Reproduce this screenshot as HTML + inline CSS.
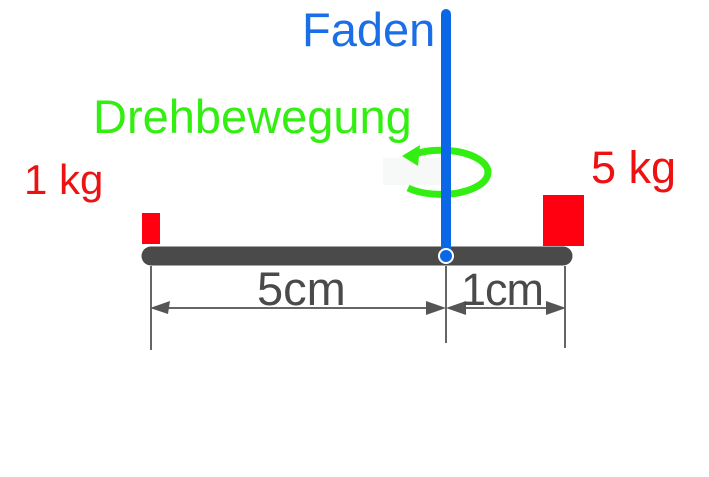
<!DOCTYPE html>
<html><head><style>
body{margin:0;width:709px;height:472px;background:#fff;overflow:hidden}
</style></head><body>
<svg width="709" height="472" xmlns="http://www.w3.org/2000/svg" font-family="Liberation Sans, sans-serif">
<text x="302" y="46" font-size="47" fill="#1a6ee8">Faden</text>
<text x="93" y="133" font-size="47" fill="#33ee11">Drehbewegung</text>
<text x="24" y="194" font-size="42" fill="#ee1111">1 kg</text>
<text x="591" y="183" font-size="45" fill="#ee1111">5 kg</text>
<rect x="142" y="213" width="18" height="31" fill="#ff0010"/>
<rect x="543" y="195" width="41" height="51" fill="#ff0010"/>
<rect x="383" y="158" width="60" height="27" fill="#f6f9f8"/>
<path d="M408 188 A47 22 0 1 0 412 155" fill="none" stroke="#33ee11" stroke-width="7"/>
<polygon points="402,156 420,145 418,166" fill="#33ee11"/>
<line x1="151" y1="256" x2="563" y2="256" stroke="#4a4a4a" stroke-width="19" stroke-linecap="round"/>
<line x1="446" y1="14" x2="446" y2="254" stroke="#0a68e6" stroke-width="10" stroke-linecap="round"/>
<circle cx="446" cy="256" r="7" fill="#0a68e6" stroke="#fff" stroke-width="2"/>
<g stroke="#666" stroke-width="2">
<line x1="151" y1="266" x2="151" y2="350"/>
<line x1="446" y1="266" x2="446" y2="343"/>
<line x1="565" y1="266" x2="565" y2="348"/>
<line x1="160" y1="308" x2="440" y2="308"/>
<line x1="452" y1="308" x2="560" y2="308"/>
</g>
<g fill="#555">
<polygon points="150,308 170,301 168,314"/>
<polygon points="446,308 426,301 426,315"/>
<polygon points="446,308 466,301 466,315"/>
<polygon points="566,308 546,301 546,315"/>
</g>
<text x="257" y="305" font-size="47" fill="#4a4a4a">5cm</text>
<text x="461" y="305" font-size="45" fill="#4a4a4a" letter-spacing="-1">1cm</text>
</svg>
</body></html>
